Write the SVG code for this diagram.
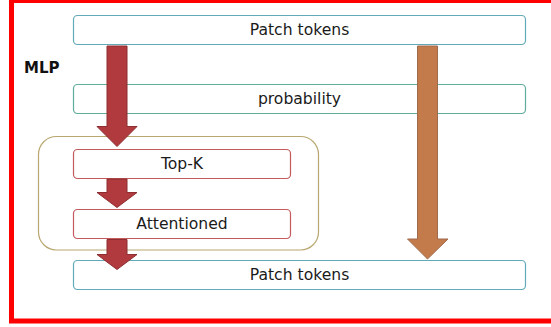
<svg xmlns="http://www.w3.org/2000/svg" width="551" height="327" viewBox="0 0 551 327">
<defs>
<style>
.box{fill:#fff;stroke-width:1.2}
.blue{stroke:#62a9b9}
.green{stroke:#5fab9c}
.red{stroke:#c45a5c}
.lbl{font-family:"DejaVu Sans",Verdana,sans-serif;font-size:15.6px;fill:#1a1a1a;text-anchor:middle}
.ra{fill:#b03a3e;stroke:#8e2e31;stroke-width:1}
.oa{fill:#c47b4c;stroke:#a06a4c;stroke-width:1}
</style>
</defs>
<rect x="0" y="0" width="551" height="327" fill="#fff"/>
<rect x="11.5" y="0.5" width="545" height="320.5" fill="none" stroke="#ff0000" stroke-width="5"/>
<text x="24" y="73" font-family="'DejaVu Sans',Verdana,sans-serif" font-size="15" font-weight="bold" fill="#111">MLP</text>
<g id="group">
<rect x="38.5" y="136.5" width="280" height="113.5" rx="18" fill="none" stroke="#b9a770" stroke-width="1.2"/>
</g>
<g id="patch-top"><rect class="box blue" x="73.5" y="15.5" width="452" height="29" rx="4"/><text class="lbl" x="299.5" y="35">Patch tokens</text></g>
<g id="probability"><rect class="box green" x="73.5" y="84.5" width="452" height="29" rx="4"/><text class="lbl" x="299.5" y="104">probability</text></g>
<g id="topk"><rect class="box red" x="73.5" y="149.5" width="217" height="29" rx="4"/><text class="lbl" x="182" y="169">Top-K</text></g>
<g id="attentioned"><rect class="box red" x="73.5" y="209.5" width="217" height="29" rx="4"/><text class="lbl" x="182" y="228.5">Attentioned</text></g>
<g id="patch-bottom"><rect class="box blue" x="73.5" y="260.5" width="452" height="29" rx="4"/><text class="lbl" x="299.5" y="280">Patch tokens</text></g>
<g id="connectors">
<polygon class="ra" points="107,46 127,46 127,126.5 137,126.5 117,146.5 97,126.5 107,126.5"/>
<polygon class="ra" points="107,179 127,179 127,192.5 137,192.5 117,207.5 97,192.5 107,192.5"/>
<polygon class="ra" points="107,239.5 127,239.5 127,254.5 137,254.5 117,269.5 97,254.5 107,254.5"/>
<polygon class="oa" points="417.5,46 437.5,46 437.5,239 448,239 427.5,259 407.5,239 417.5,239"/>
</g>
</svg>
